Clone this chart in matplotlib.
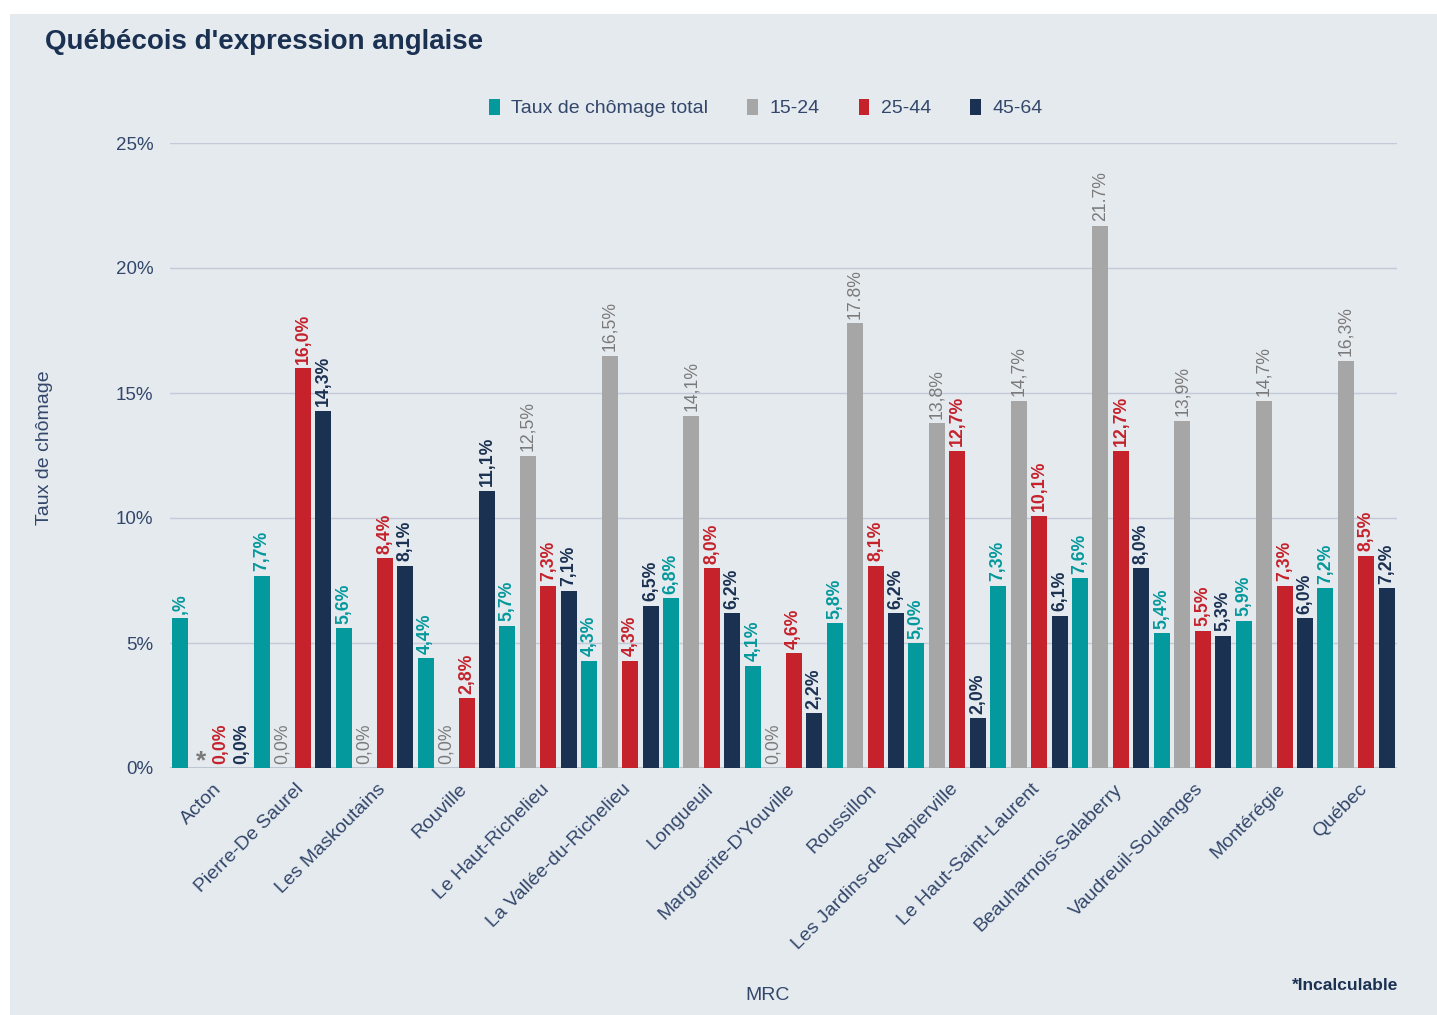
import numpy as np
import matplotlib.pyplot as plt
from matplotlib.patches import Patch, Rectangle

plt.rcParams['font.family'] = ['Liberation Sans', 'DejaVu Sans']

### data
mrc = ["Acton", "Pierre-De Saurel", "Les Maskoutains", "Rouville", "Le Haut-Richelieu",
       "La Vallée-du-Richelieu", "Longueuil", "Marguerite-D'Youville", "Roussillon",
       "Les Jardins-de-Napierville", "Le Haut-Saint-Laurent", "Beauharnois-Salaberry",
       "Vaudreuil-Soulanges", "Montérégie", "Québec"]
total = [6.0, 7.7, 5.6, 4.4, 5.7, 4.3, 6.8, 4.1, 5.8, 5.0, 7.3, 7.6, 5.4, 5.9, 7.2]
age_15_24 = [np.nan, 0.0, 0.0, 0.0, 12.5, 16.5, 14.1, 0.0, 17.8, 13.8, 14.7, 21.7, 13.9, 14.7, 16.3]
age_25_44 = [0.0, 16.0, 8.4, 2.8, 7.3, 4.3, 8.0, 4.6, 8.1, 12.7, 10.1, 12.7, 5.5, 7.3, 8.5]
age_45_64 = [0.0, 14.3, 8.1, 11.1, 7.1, 6.5, 6.2, 2.2, 6.2, 2.0, 6.1, 8.0, 5.3, 6.0, 7.2]
series_names = ["Taux de chômage total", "15-24", "25-44", "45-64"]
yticks = [0, 5, 10, 15, 20, 25]

# labels that show odd formatting in the original
label_override = {(0, 0): ",%", (1, 8): "17.8%", (1, 11): "21.7%"}

colors = ["#04999C", "#A6A6A6", "#C5222B", "#1B3152"]
label_colors = ["#04999C", "#7A7A7A", "#C5222B", "#1B3152"]
label_weights = ["bold", "normal", "bold", "bold"]
navy = "#1B3152"
tick_col = "#33476B"
bg = "#E5EAEF"

fig = plt.figure(figsize=(14.37, 10.15), dpi=100)
fig.patches.append(Rectangle((10 / 1437, 0), 1, 1 - 14 / 1015, transform=fig.transFigure,
                             facecolor=bg, edgecolor='none', zorder=-5))
ax = fig.add_axes([170 / 1437, 1 - 768 / 1015, (1397 - 170) / 1437, (768 - 143) / 1015])
ax.patch.set_alpha(0)

x = np.arange(len(mrc))
slot = 0.25
w = slot * 0.78
all_series = [total, age_15_24, age_25_44, age_45_64]

for k, vals in enumerate(all_series):
    pos = x + (k - 1.5) * slot
    v = np.array(vals, dtype=float)
    ax.bar(pos, np.nan_to_num(v), width=w, color=colors[k], zorder=3)
    for i, val in enumerate(v):
        if np.isnan(val):
            ax.text(pos[i], -0.2, "*", color="#7A7A7A", fontsize=19, fontweight='bold',
                    ha='center', va='bottom', zorder=4)
            continue
        txt = label_override.get((k, i), f"{val:.1f}%".replace('.', ','))
        ax.annotate(txt, (pos[i], val), xytext=(0, 3), textcoords='offset points',
                    rotation=90, ha='center', va='bottom', fontsize=12.7,
                    color=label_colors[k], fontweight=label_weights[k], zorder=4)

ax.set_xlim(-0.5, len(mrc) - 0.5)
ax.set_ylim(0, 25)
ax.set_yticks(yticks)
ax.set_yticklabels([f"{t}%" for t in yticks], fontsize=13.5, color=tick_col)
ax.yaxis.grid(True, color="#C3C9D8", linewidth=1, zorder=0)
ax.axhline(0, color="#B8BFCE", linewidth=1.2, zorder=2)
for s in ax.spines.values():
    s.set_visible(False)
ax.tick_params(axis='both', length=0)
ax.tick_params(axis='y', pad=12)

ax.set_xticks(x + 0.03)
ax.set_xticklabels(mrc, rotation=45, ha='right', va='top', rotation_mode='anchor',
                   fontsize=14, color=tick_col)
ax.tick_params(axis='x', pad=9)

fig.text(768 / 1437, 1 - 996 / 1015, "MRC", ha='center', va='center', fontsize=14, color=tick_col)
fig.text(45 / 1437, 1 - 448 / 1015, "Taux de chômage", rotation=90, ha='center', va='center',
         fontsize=14, color=tick_col)
fig.text(45 / 1437, 1 - 42 / 1015, "Québécois d'expression anglaise", ha='left', va='center',
         fontsize=20, fontweight='bold', color=navy)
fig.text(1398 / 1437, 1 - 986 / 1015, "*Incalculable", ha='right', va='center',
         fontsize=12.5, fontweight='bold', color=navy)

handles = [Patch(facecolor=c, edgecolor='none') for c in colors]
fig.legend(handles, series_names, loc='center', bbox_to_anchor=(766 / 1437, 1 - 108 / 1015),
           ncol=4, frameon=False, fontsize=14, handlelength=0.55, handleheight=0.9,
           handletextpad=0.6, columnspacing=2.0, labelcolor=tick_col)

fig.savefig("out.png", dpi=100)
